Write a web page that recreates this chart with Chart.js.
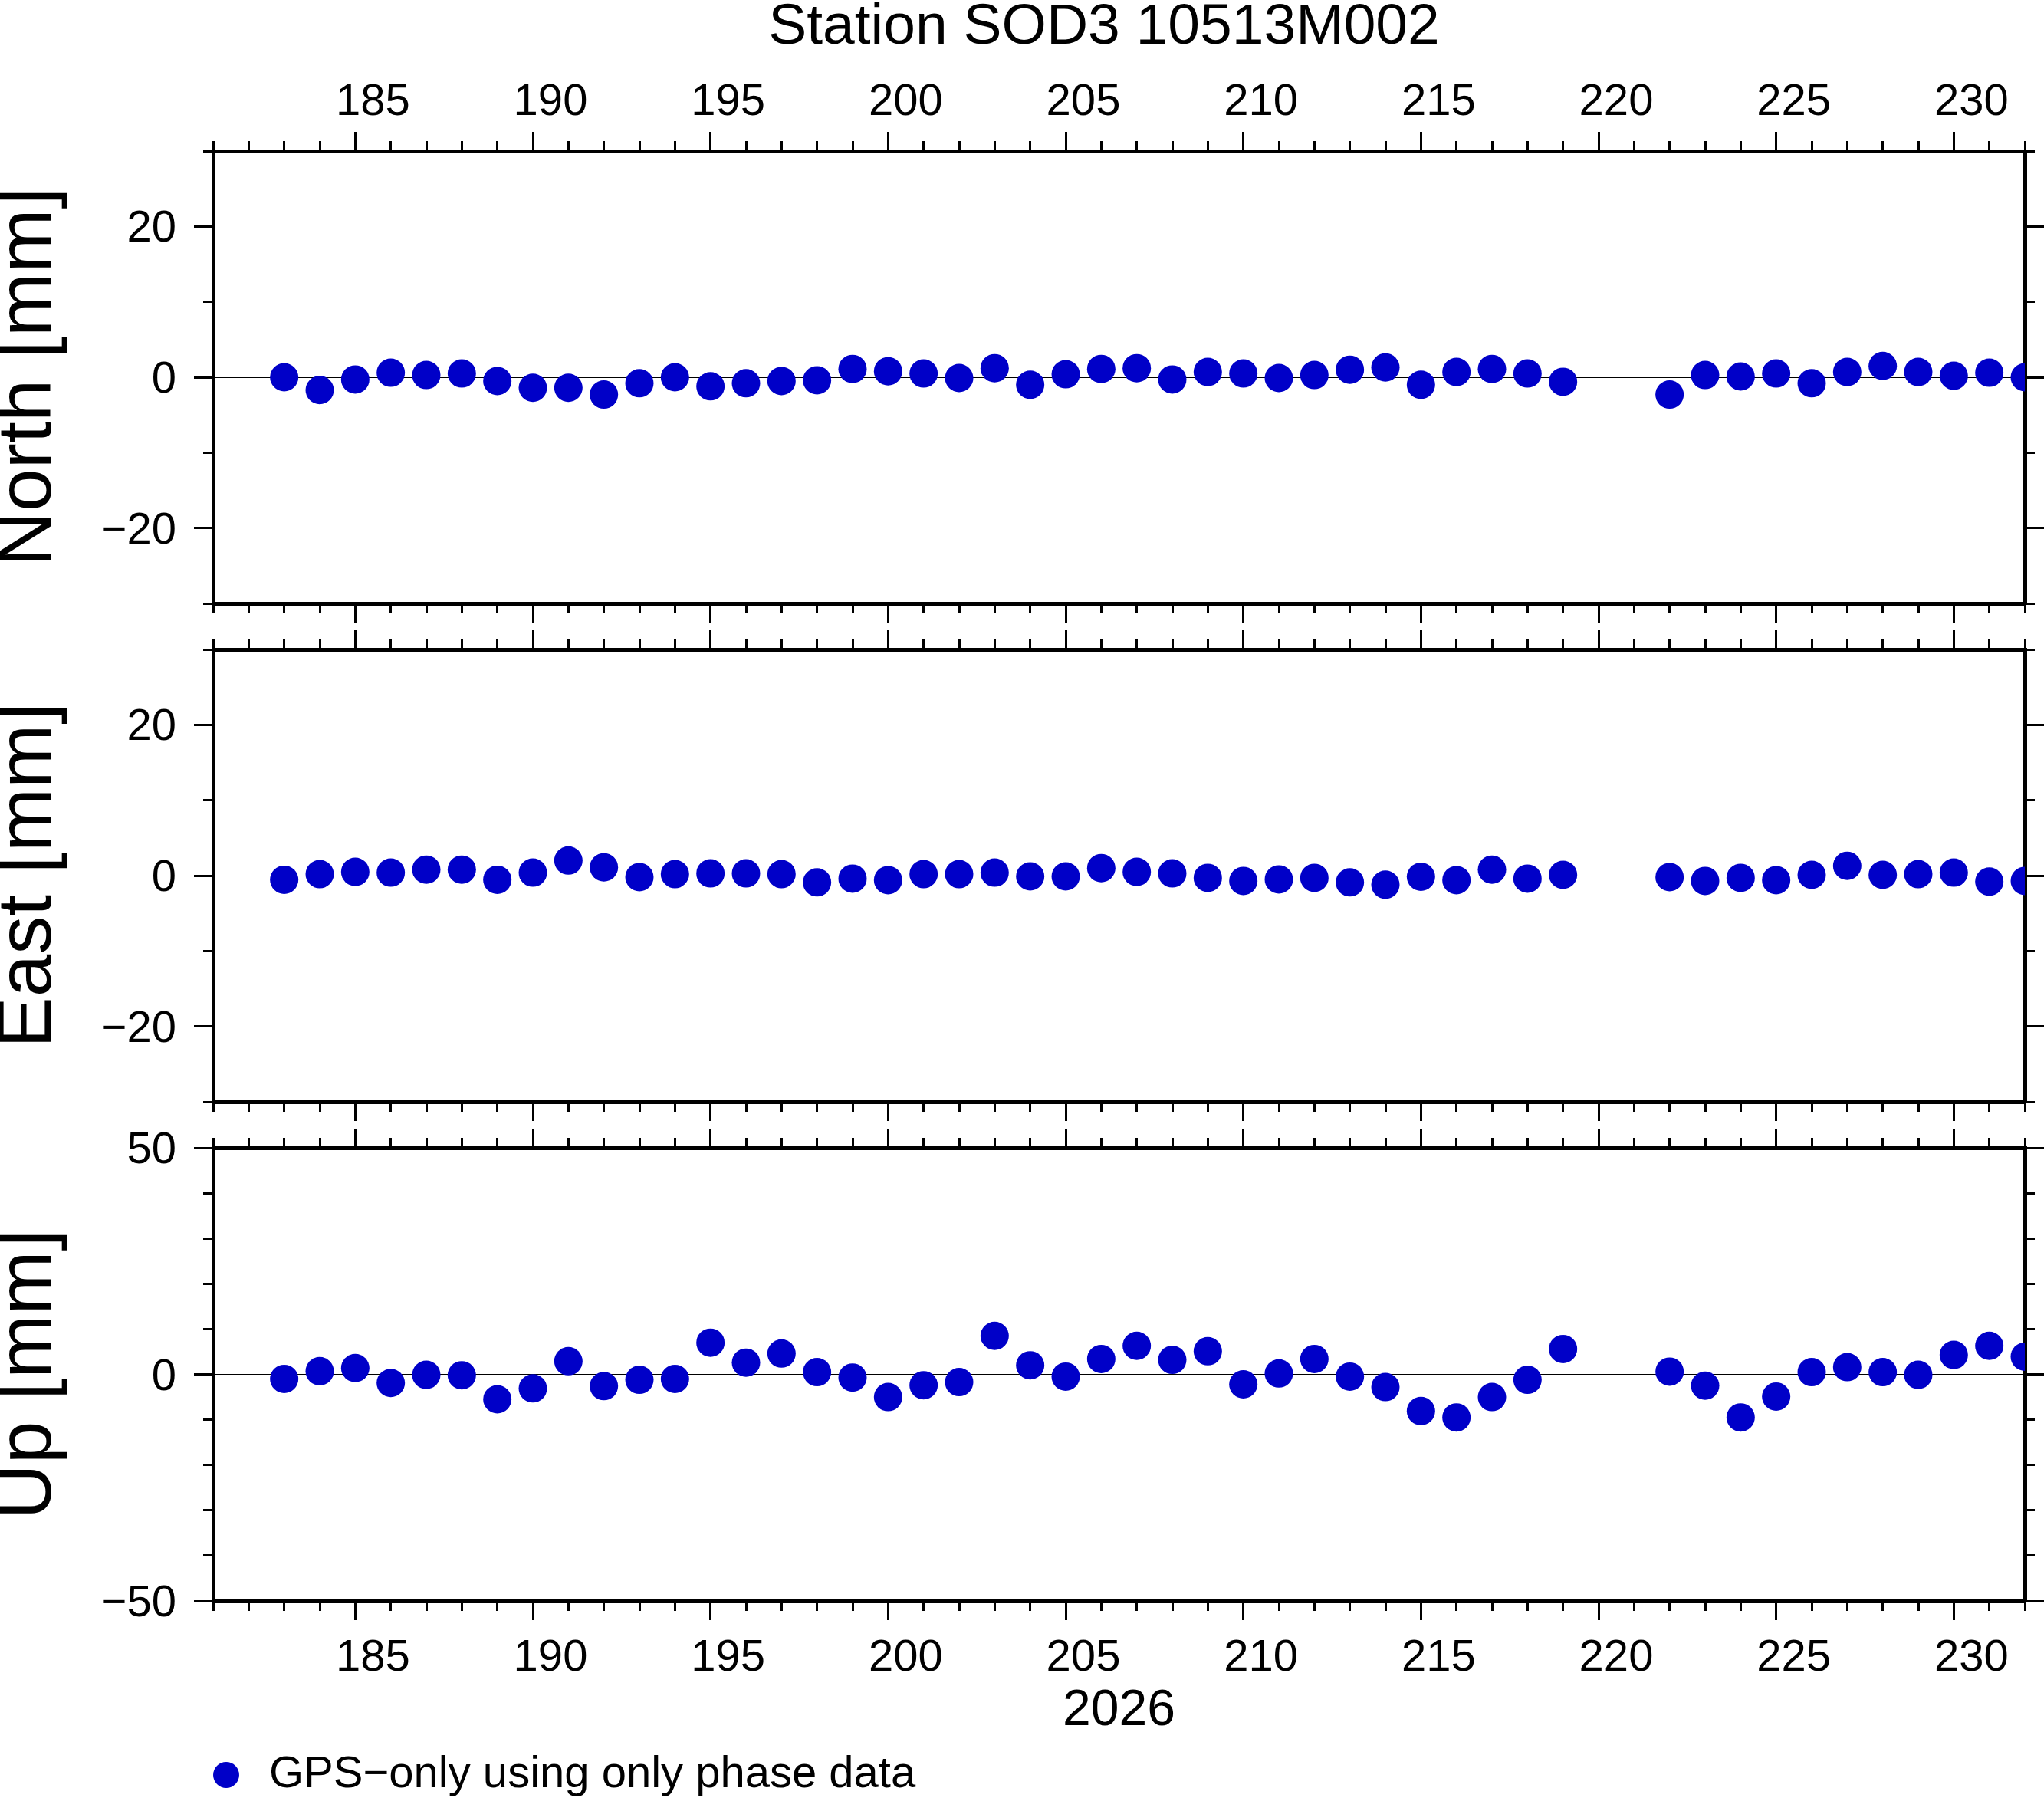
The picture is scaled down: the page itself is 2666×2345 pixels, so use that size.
<!DOCTYPE html>
<html>
<head>
<meta charset="utf-8">
<title>Station SOD3 10513M002</title>
<script src="https://cdn.jsdelivr.net/npm/chart.js@4.4.1/dist/chart.umd.min.js"></script>
<style>
  html, body { margin: 0; padding: 0; background: #fff; overflow: hidden; width: 2666px; height: 2345px; }
  canvas { position: absolute; left: 0; }
</style>
</head>
<body>
<canvas id="north" width="2666" height="830" style="top:0px"></canvas>
<canvas id="east" width="2666" height="790" style="top:747px"></canvas>
<canvas id="up" width="2666" height="957" style="top:1397px"></canvas>
<script>
// Daily coordinate residuals of station SOD3, 2026 (mm)
var stationTitle = 'Station SOD3 10513M002';
var seriesLabel = 'GPS\u2212only using only phase data';
var yearLabel = '2026';

// day of year of each solution (no solution on 220 and 221)
var days = [183, 184, 185, 186, 187, 188, 189, 190, 191, 192, 193, 194, 195, 196, 197, 198, 199, 200, 201,
            202, 203, 204, 205, 206, 207, 208, 209, 210, 211, 212, 213, 214, 215, 216, 217, 218, 219,
            222, 223, 224, 225, 226, 227, 228, 229, 230, 231, 232];

var northValues = [0.0, -1.7, -0.3, 0.6, 0.3, 0.5, -0.5, -1.4, -1.4, -2.3, -0.8, 0.0, -1.2, -0.8, -0.5, -0.4, 1.1, 0.8, 0.5,
                   -0.1, 1.2, -1.0, 0.4, 1.1, 1.2, -0.3, 0.7, 0.5, -0.1, 0.3, 1.0, 1.3, -1.0, 0.7, 1.1, 0.5, -0.6,
                   -2.3, 0.3, 0.1, 0.5, -0.8, 0.7, 1.5, 0.7, 0.2, 0.6, 0.0];

var eastValues = [-0.55, 0.2, 0.5, 0.4, 0.8, 0.8, -0.55, 0.4, 2.0, 1.1, -0.2, 0.2, 0.3, 0.3, 0.2, -0.9, -0.4, -0.6, 0.2,
                  0.2, 0.4, -0.1, -0.1, 1.0, 0.5, 0.3, -0.3, -0.7, -0.5, -0.3, -0.9, -1.2, -0.15, -0.6, 0.8, -0.4, 0.1,
                  -0.2, -0.7, -0.3, -0.6, 0.1, 1.3, 0.1, 0.2, 0.4, -0.8, -0.7];

var upValues = [-1.0, 0.7, 1.4, -1.9, -0.1, -0.2, -5.5, -3.1, 2.9, -2.6, -1.2, -1.0, 7.0, 2.6, 4.6, 0.5, -0.7, -5.0, -2.4,
                -1.7, 8.5, 2.0, -0.5, 3.4, 6.3, 3.2, 5.1, -2.2, 0.2, 3.4, -0.5, -2.8, -8.1, -9.5, -5.0, -1.2, 5.6,
                0.6, -2.5, -9.5, -4.9, 0.5, 1.6, 0.5, -0.1, 4.3, 6.3, 3.9];

// labelled ticks
var dayTicks = [185, 190, 195, 200, 205, 210, 215, 220, 225, 230];
var northTicks = [-20, 0, 20];
var eastTicks = [-20, 0, 20];
var upTicks = [-50, 0, 50];

Chart.defaults.font.family = "'Liberation Sans', Arial, Helvetica, sans-serif";
Chart.defaults.color = '#000';

var dotColor = 'rgb(0,0,200)';

// axis boxes get a fixed size so the three frames line up
function fixSize(prop, size) {
  return function (scale) {
    scale[prop] = size;
    scale.paddingLeft = scale.paddingRight = scale.paddingTop = scale.paddingBottom = 0;
  };
}
function setTicks(values) {
  return function (scale) {
    scale.ticks = values.map(function (v) { return {value: v}; });
  };
}
function minusSign(v) {
  return v < 0 ? '\u2212' + Math.abs(v) : String(v);
}
function labelFont() { return {size: 58, lineHeight: 1.2}; }
function majorGrid() { return {drawOnChartArea: false, tickLength: 25, tickWidth: 3, tickColor: '#000', color: 'rgba(0,0,0,0)'}; }
function minorGrid() { return {drawOnChartArea: false, tickLength: 13, tickWidth: 3, tickColor: '#000', color: 'rgba(0,0,0,0)'}; }
function frame() { return {display: true, width: 5, color: '#000'}; }

function dayAxis(position, size, major, showLabels) {
  var axis = {
    type: 'linear', axis: 'x', position: position,
    min: 181, max: 232,
    weight: major ? 1 : 0,
    afterFit: fixSize('height', major ? size : 0),
    grid: major ? majorGrid() : minorGrid(),
    border: major ? frame() : {display: false},
    ticks: {
      display: showLabels, autoSkip: false, maxRotation: 0, font: labelFont(), color: '#000',
      padding: position === 'top' ? 3 : 15, labelOffset: 23,
      callback: function (v) { return String(v); }
    }
  };
  if (major) axis.afterBuildTicks = setTicks(dayTicks);
  else axis.ticks.stepSize = 1;
  return axis;
}

function valueAxis(position, limit, tickValues, major, title) {
  var left = position === 'left';
  var axis = {
    type: 'linear', axis: 'y', position: position,
    min: -limit, max: limit,
    weight: major ? 1 : 0,
    afterFit: fixSize('width', major ? (left ? 278 : 25) : 0),
    grid: major ? majorGrid() : minorGrid(),
    border: major ? frame() : {display: false},
    ticks: {display: major && left, font: labelFont(), color: '#000', padding: 23, labelOffset: 4, callback: minusSign}
  };
  if (major) axis.afterBuildTicks = setTicks(tickValues);
  else axis.ticks.stepSize = 10;
  if (major && left) {
    // zero line across the frame
    axis.grid.drawOnChartArea = true;
    axis.grid.lineWidth = 1;
    axis.grid.color = function (c) { return c.tick && c.tick.value === 0 ? '#000' : 'rgba(0,0,0,0)'; };
    axis.title = {display: true, text: title, color: '#000', font: {size: 100, lineHeight: 0.77}, padding: 0};
  }
  return axis;
}

var stationTitlePlugin = {
  id: 'stationTitle',
  afterDraw: function (chart) {
    var ctx = chart.ctx;
    ctx.save();
    ctx.fillStyle = '#000';
    ctx.font = "75px 'Liberation Sans', Arial, sans-serif";
    ctx.textAlign = 'center';
    ctx.textBaseline = 'alphabetic';
    ctx.fillText(stationTitle, 1440, 57);
    ctx.restore();
  }
};

function panelChart(id, values, limit, tickValues, title, box) {
  var scales = {
    x: dayAxis('bottom', box.bottom, true, !!box.bottomLabels),
    xMinor: dayAxis('bottom', 0, false, false),
    xTop: dayAxis('top', box.top, true, !!box.topLabels),
    xTopMinor: dayAxis('top', 0, false, false),
    y: valueAxis('left', limit, tickValues, true, title),
    yMinor: valueAxis('left', limit, null, false),
    yRight: valueAxis('right', limit, tickValues, true),
    yRightMinor: valueAxis('right', limit, null, false)
  };
  if (box.yearTitle) {
    scales.x.title = {display: true, text: yearLabel, color: '#000', font: {size: 66, lineHeight: 1}, padding: {top: 0, bottom: 21}};
  }
  var legend = {display: false};
  if (box.legend) {
    // legend box spans the frame width; a small negative padding brings the dot out to the frame edge,
    // an empty legend title keeps the text inside the legend's clip box
    legend = {
      display: true, position: 'bottom', align: 'start', fullSize: false,
      title: {display: true, text: '', font: {size: 10, lineHeight: 1}, padding: 0},
      labels: {usePointStyle: true, pointStyle: 'circle', boxWidth: 54, boxHeight: 24, padding: -10,
               color: '#000', font: {size: 58}}
    };
  }
  return new Chart(document.getElementById(id), {
    type: 'scatter',
    data: {
      datasets: [{
        label: seriesLabel,
        data: days.map(function (d, i) { return {x: d, y: values[i]}; }),
        xAxisID: 'x', yAxisID: 'y',
        backgroundColor: dotColor, borderWidth: 0,
        pointRadius: 18.5, pointHoverRadius: 18.5
      }]
    },
    options: {
      responsive: false, animation: false, devicePixelRatio: 1, events: [],
      layout: {padding: 0, autoPadding: false},
      plugins: {legend: legend, tooltip: {enabled: false}, title: {display: false}},
      scales: scales
    },
    plugins: box.stationTitle ? [stationTitlePlugin] : []
  });
}

panelChart('north', northValues, 30, northTicks, 'North [mm]', {top: 197, bottom: 43, topLabels: true, stationTitle: true});
panelChart('east', eastValues, 30, eastTicks, 'East [mm]', {top: 100, bottom: 100});
panelChart('up', upValues, 50, upTicks, 'Up [mm]', {top: 100, bottom: 198, bottomLabels: true, yearTitle: true, legend: true});
</script>
</body>
</html>
